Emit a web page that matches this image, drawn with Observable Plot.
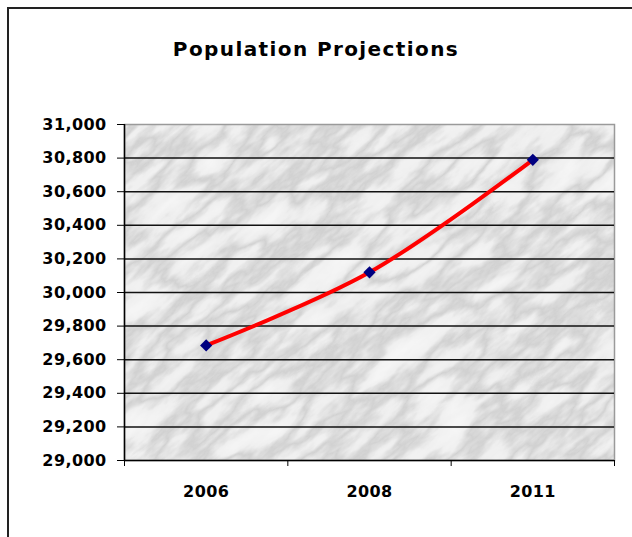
<!DOCTYPE html>
<html>
<head>
<meta charset="utf-8">
<script src="https://cdn.jsdelivr.net/npm/d3@7"></script>
<script src="https://cdn.jsdelivr.net/npm/@observablehq/plot@0.6"></script>
<style>
  html, body { margin: 0; padding: 0; background: #fff; width: 632px; height: 537px; overflow: hidden; }
  #frame { position: absolute; left: 7px; top: 7px; width: 700px; height: 600px;
           border-left: 2px solid #222; border-top: 2px solid #222; }
  #title { position: absolute; left: 0; width: 632px; top: 40px; text-align: center;
           font-family: "DejaVu Sans", sans-serif; font-weight: bold; font-size: 20px;
           line-height: 19px; letter-spacing: 1.4px; color: #000; }
  #chart { position: absolute; left: 0; top: 100px; }
</style>
</head>
<body>
<div id="frame"></div>
<div id="title">Population Projections</div>
<div id="chart"></div>
<script>
const years = ["2006", "2008", "2011"];
const population = [29685, 30120, 30790];
const yTicks = [29000, 29200, 29400, 29600, 29800, 30000, 30200, 30400, 30600, 30800, 31000];

const data = years.map((y, i) => ({year: y, idx: i + 0.5, value: population[i]}));
const xBounds = d3.range(years.length + 1);
const xCenters = years.map((_, i) => i + 0.5);

const font = {fontFamily: "DejaVu Sans, sans-serif", fontWeight: "bold", fontSize: "16px", letterSpacing: "0.4px"};

const plot = Plot.plot({
  width: 632,
  height: 420,
  marginTop: 24,
  marginBottom: 60,
  marginLeft: 124,
  marginRight: 18,
  style: {background: "transparent", color: "#000", ...font},
  x: {type: "linear", domain: [0, years.length], axis: null},
  y: {domain: [29000, 31000], axis: null},
  marks: [
    Plot.frame({fill: "#dcdcdc", stroke: "#9a9a9a", strokeWidth: 1.5}),
    Plot.ruleY(yTicks.filter(d => d > 29000 && d < 31000), {stroke: "#111", strokeWidth: 1.5}),
    Plot.ruleX([0], {stroke: "#000", strokeWidth: 1.5}),
    Plot.ruleY([29000], {stroke: "#000", strokeWidth: 1.5}),
    Plot.axisY({ticks: yTicks, tickFormat: d3.format(","), tickSize: 7, tickPadding: 11, anchor: "left", stroke: "#000", label: null}),
    Plot.axisX({ticks: xBounds, tickFormat: () => "", tickSize: 6, anchor: "bottom", stroke: "#000", label: null}),
    Plot.axisX({ticks: xCenters, tickFormat: (d) => years[Math.floor(d)], tickSize: 0, tickPadding: 25, anchor: "bottom", label: null}),
    Plot.line(data, {x: "idx", y: "value", stroke: "#ff0000", strokeWidth: 4, curve: "catmull-rom"}),
    Plot.dot(data, {x: "idx", y: "value", symbol: "diamond2", r: 5.5, fill: "#000080", stroke: "none"})
  ]
});

// marble texture for the plot area background (diagonal veins)
const svg = d3.select(plot);
const defs = svg.insert("defs", ":first-child");
const f = defs.append("filter").attr("id", "marble")
  .attr("x", 0).attr("y", 0).attr("width", "100%").attr("height", "100%");
f.append("feTurbulence").attr("type", "fractalNoise").attr("baseFrequency", "0.012 0.035")
  .attr("numOctaves", 5).attr("seed", 11).attr("result", "noise");
f.append("feColorMatrix").attr("in", "noise").attr("type", "matrix")
  .attr("values", "1 0 0 0 0  1 0 0 0 0  1 0 0 0 0  0 0 0 0 1").attr("result", "gray");
const ct = f.append("feComponentTransfer").attr("in", "gray").attr("result", "veins");
["feFuncR", "feFuncG", "feFuncB"].forEach(n =>
  ct.append(n).attr("type", "table").attr("tableValues", "0.93 0.91 0.87 0.64 0.86 0.91 0.94"));
f.append("feComposite").attr("in", "veins").attr("in2", "SourceGraphic").attr("operator", "in");

const pat = defs.append("pattern").attr("id", "marblePat").attr("patternUnits", "userSpaceOnUse")
  .attr("width", 1200).attr("height", 1200).attr("x", -300).attr("y", -300)
  .attr("patternTransform", "rotate(-40 370 290)");
pat.append("rect").attr("width", 1200).attr("height", 1200).attr("fill", "#dcdcdc").attr("filter", "url(#marble)");

svg.selectAll("[aria-label=frame]").each(function() {
  const el = d3.select(this);
  if (this.tagName === "rect") el.attr("fill", "url(#marblePat)");
  else el.selectAll("rect").attr("fill", "url(#marblePat)");
});

document.getElementById("chart").appendChild(plot);
</script>
</body>
</html>
